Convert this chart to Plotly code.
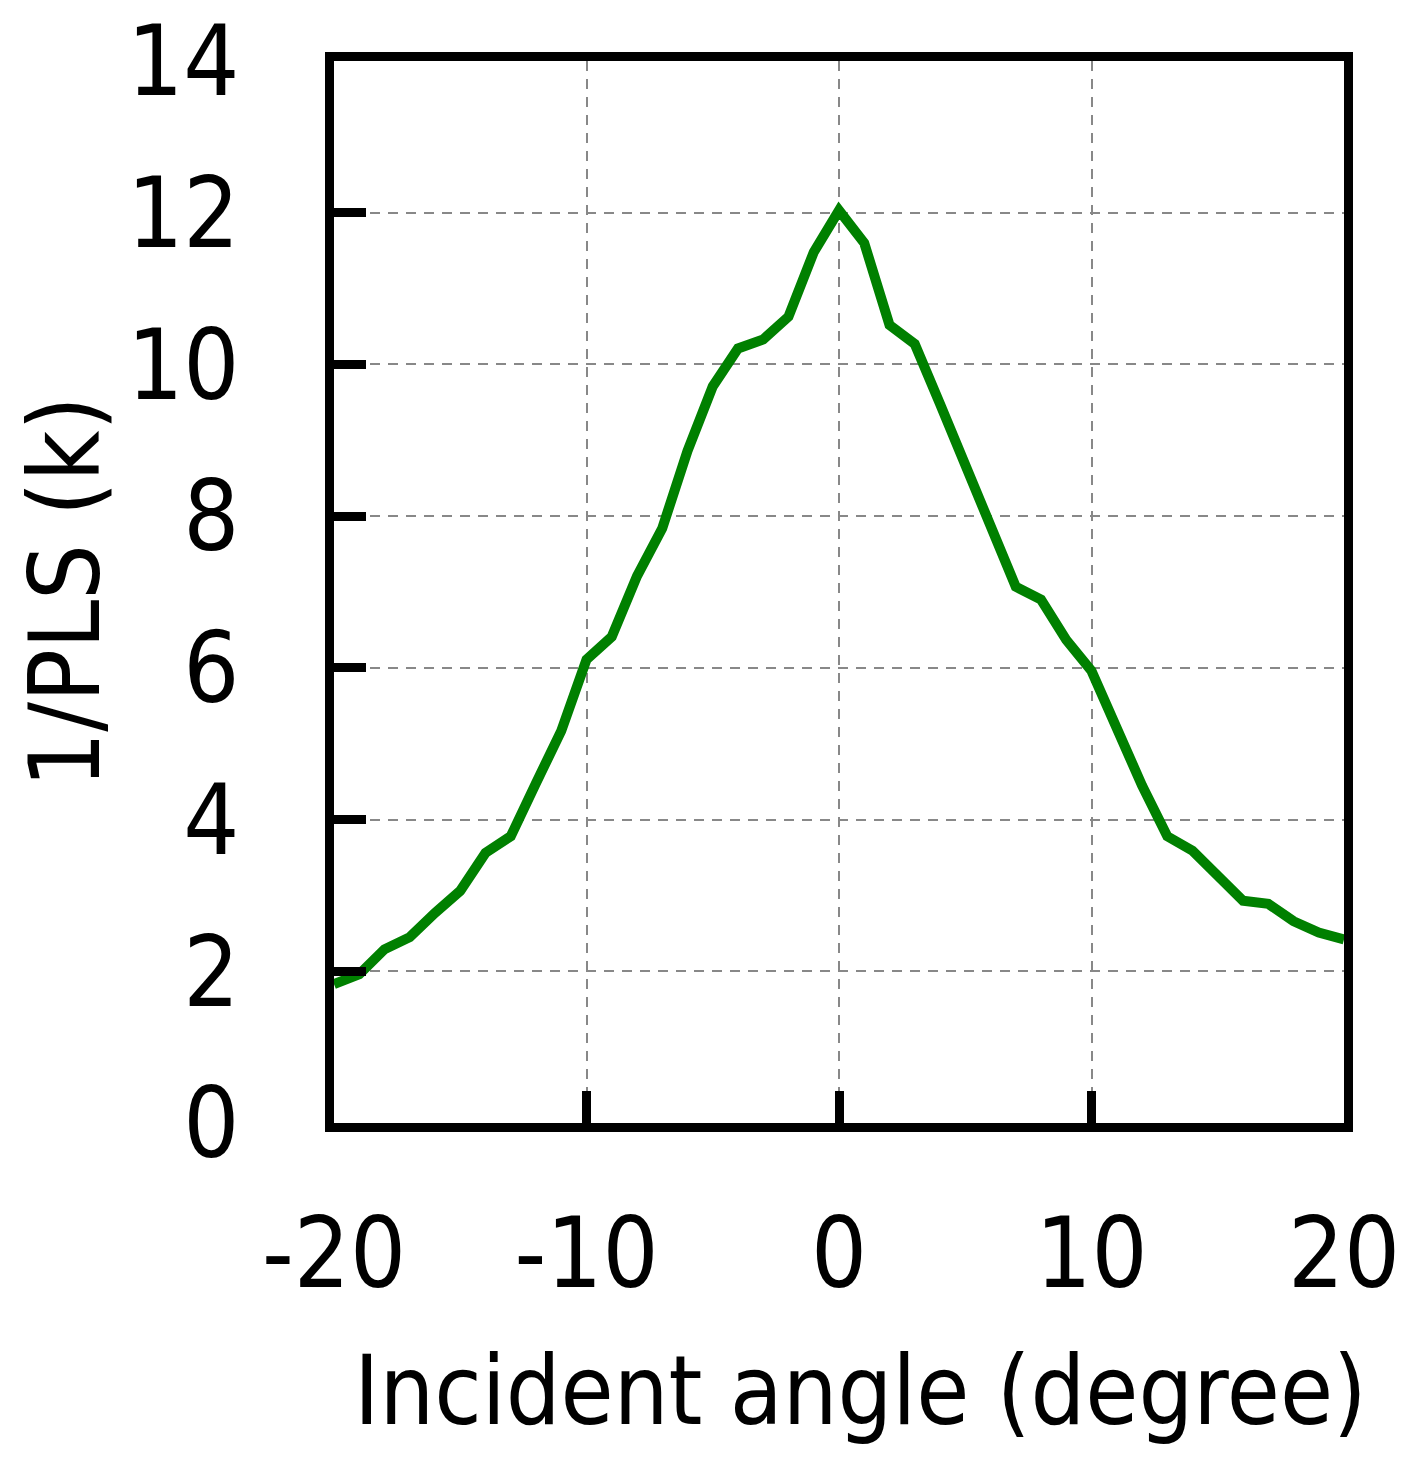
import plotly.graph_objects as go

# incident angle (degree) and 1/PLS (k)
angle = [-20, -19, -18, -17, -16, -15, -14, -13, -12, -11, -10,
         -9, -8, -7, -6, -5, -4, -3, -2, -1, 0,
         1, 2, 3, 4, 5, 6, 7, 8, 9, 10,
         11, 12, 13, 14, 15, 16, 17, 18, 19, 20]
inv_pls = [1.83, 1.96, 2.29, 2.45, 2.77, 3.06, 3.56, 3.78, 4.48, 5.17, 6.11,
           6.41, 7.21, 7.84, 8.86, 9.71, 10.21, 10.33, 10.63, 11.48, 12.03,
           11.60, 10.52, 10.27, 9.48, 8.66, 7.85, 7.07, 6.90, 6.37, 5.96,
           5.18, 4.45, 3.78, 3.59, 3.26, 2.93, 2.89, 2.66, 2.51, 2.42]

x_ticks = [-20, -10, 0, 10, 20]
x_labels = ["-20", "-10", "0", "10", "20"]
y_ticks = [0, 2, 4, 6, 8, 10, 12, 14]
x_title = "Incident angle (degree)"
y_title = "1/PLS (k)"

FONT = "DejaVu Sans Condensed, DejaVu Sans"

fig = go.Figure()
fig.add_trace(go.Scatter(
    x=angle, y=inv_pls, mode="lines",
    line=dict(color="#008000", width=10),
    showlegend=False,
))

axis_common = dict(
    showline=True, linecolor="black", linewidth=9, mirror=True,
    ticks="inside", ticklen=32, tickwidth=9, tickcolor="black",
    showgrid=True, gridcolor="#888888", gridwidth=2, griddash="10px,8px",
    zeroline=False, automargin=False, ticklabeloverflow="allow",
    tickfont=dict(family=FONT, size=98, color="black"),
)

fig.update_xaxes(
    range=[-20, 20], tickvals=x_ticks, ticktext=x_labels,
    ticklabelstandoff=37,
    **axis_common,
)
fig.update_yaxes(
    range=[0, 14], tickvals=y_ticks,
    ticklabelstandoff=66,
    title=dict(text=y_title, font=dict(family=FONT, size=98, color="black"), standoff=40),
    **axis_common,
)

# x title sits a little right of the axis centre in the reference
fig.add_annotation(
    text=x_title, xref="x", x=0, yref="paper", y=0,
    xanchor="center", yanchor="top", xshift=21, yshift=-210,
    showarrow=False, font=dict(family=FONT, size=96, color="black"),
)

fig.update_layout(
    width=1414, height=1464,
    margin=dict(l=326, r=78, t=53, b=349),
    plot_bgcolor="white", paper_bgcolor="white",
)

fig.write_html("out.html")
